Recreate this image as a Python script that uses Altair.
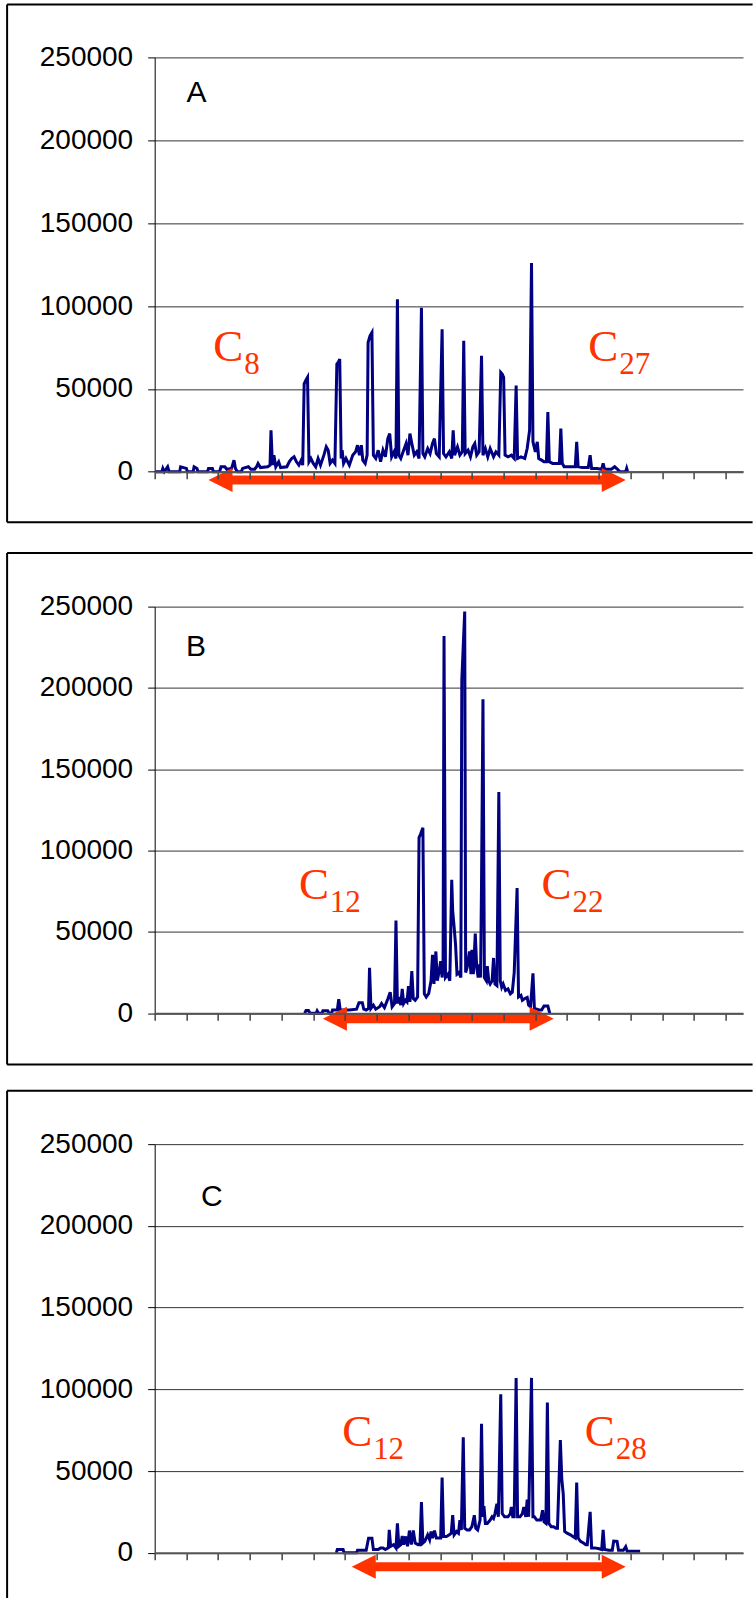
import altair as alt
import pandas as pd

# ---------------- data (x: scan units, tick every 66; y: abundance) ----------------
A_trace = [(2,0),(15,0),(17,2000),(20,0),(27,3000),(30,0),(52,0),(54,3000),(66,2000),(68,0),(80,0),(82,3000),
    (88,2000),(90,0),(110,0),(112,2000),(120,2000),(122,0),(135,0),(138,3000),(146,3000),(150,1500),(160,2000),
    (165,7000),(168,2000),(172,0),(180,0),(183,2000),(195,3000),(200,1500),(208,1500),
    (212,3000),(215,5000),(220,2500),(235,3000),(240,4000),(242,25000),(245,4000),(248,10000),(252,3000),(258,6000),
    (262,2500),(275,3000),(280,6000),(285,8000),(290,9000),(295,6000),(300,4000),(305,7000),(308,4000),(311,53000),
    (314,55000),(318,57000),(321,6000),(325,8000),(330,5000),(335,3000),(340,8000),(345,4000),(352,10000),(357,15000),
    (361,13000),(365,5000),(370,7000),(375,5000),(379,65000),(382,66000),(385,68000),(388,8000),(390,13000),(393,5000),
    (398,8000),(405,4000),(412,10000),(418,12000),(422,16000),(426,10000),(430,16000),(433,7000),(438,5000),(442,10000),
    (444,78000),(448,82000),(452,84000),(455,10000),(460,8000),(465,13000),(470,6000),(475,13000),(480,9000),(485,20000),
    (489,23000),(493,9000),(498,12000),(502,8000),(505,104000),(508,10000),(512,8000),(518,13000),(523,17000),(527,10000),
    (531,23000),(535,17000),(540,10000),(545,12000),(550,8000),(555,99000),(558,11000),(562,9000),(568,14000),(573,11000),
    (578,17000),(582,20000),(586,11000),(592,9000),(598,86000),(601,11000),(606,9000),(613,12000),(618,8000),(621,25000),
    (624,10000),(630,15000),(635,10000),(640,12000),(643,79000),(646,11000),(652,13000),(657,9000),(662,15000),(666,17000),
    (670,10000),(675,12000),(680,70000),(683,10000),(688,14000),(693,9000),(698,14000),(705,9000),(710,12000),(716,10000),
    (720,60000),(723,59000),(726,57000),(729,10000),(735,9000),(742,10000),(748,8000),(752,52000),(755,8000),(762,9000),
    (770,8000),(775,14000),(780,25000),(784,126000),(787,18000),(792,12000),(796,18000),(799,8000),(805,7000),(810,6000),
    (815,6000),(818,36000),(821,6000),(828,5000),(835,5000),(842,5000),(845,26000),(848,5000),(852,3000),(865,3000),
    (875,3000),(878,18000),(881,3000),(890,2500),(902,2500),(906,10000),(909,2000),(920,2000),(930,1500),(933,5000),
    (936,1500),(950,1500),(957,3000),(963,1500),(968,0),(980,0),(982,2000),(984,0)]

B_trace = [(312,0),(315,1700),(320,1700),(323,0),(336,0),(338,1500),(341,0),(348,0),(350,1500),(360,1500),(363,0),
    (368,0),(370,2000),(380,2000),(383,8700),(386,2000),(395,2000),(405,2000),(420,2500),(425,6500),(432,6500),(435,2500),
    (440,2000),(445,3000),(447,28000),(450,3000),(455,5000),(460,2500),(468,4000),(472,6000),(478,3500),(485,8700),
    (490,12900),(494,4000),(499,6000),(502,57000),(505,6000),(508,10000),(512,5000),(515,15000),(518,6000),(522,8000),
    (525,7000),(528,16700),(531,7000),(535,26000),(538,9000),(542,8000),(547,10000),(550,108000),(553,110000),
    (558,114000),(561,12000),(565,10000),(570,12000),(575,20000),(578,36000),(581,18000),(585,38000),(588,20000),
    (592,26000),(595,32000),(598,22000),(600,28000),(602,232000),(605,22000),(610,24000),(614,20000),(618,82000),
    (620,63000),(623,53000),(626,42000),(629,24000),(633,25000),(637,22000),(639,205000),(645,247000),(647,25000),
    (650,28000),(655,38000),(658,24000),(660,39000),(663,24000),(667,49000),(670,28000),(673,22000),(675,30000),
    (678,22000),(680,80000),(683,193000),(686,22000),(690,20000),(692,29000),(695,20000),(698,18000),(702,20000),
    (705,34000),(708,18000),(712,17000),(716,136000),(719,20000),(722,16000),(725,18000),(730,14000),(735,15000),
    (740,12000),(744,13000),(748,25000),(754,77000),(757,10000),(762,11000),(765,8000),(770,9000),(775,9700),(778,5000),
    (782,4000),(787,24500),(790,3000),(795,2500),(800,2000),(805,2000),(810,4400),(818,4400),(822,0)]

C_trace = [(378,0),(380,2000),(392,2000),(394,0),(420,0),(422,1500),(440,1500),(445,8900),(452,8900),(455,2000),
    (465,2000),(470,3000),(475,3000),(480,2000),(486,3000),(488,14000),(491,4000),(497,5000),(502,3000),(505,18000),
    (508,4000),(512,5000),(515,10300),(518,5000),(522,10000),(526,4000),(530,13600),(534,5000),(538,13600),(542,6000),
    (548,5000),(552,5000),(555,31000),(558,6000),(562,7000),(568,11000),(572,8000),(575,13000),(578,9000),(582,13600),
    (586,9000),(590,9000),(595,9000),(598,46000),(601,10000),(607,10000),(613,11000),(617,12000),(620,23000),(623,11000),
    (628,13000),(632,12000),(635,20000),(638,14000),(642,70700),(645,15000),(650,14000),(655,14000),(660,16000),
    (665,23000),(668,15000),(672,14000),(677,20000),(680,79000),(683,22000),(685,28500),(688,18000),(692,18000),
    (698,20000),(702,22000),(705,21000),(708,24000),(712,30000),(715,22000),(720,97000),(723,24000),(728,22000),
    (735,22000),(740,24000),(742,28000),(745,22000),(748,22000),(752,107000),(755,22000),(760,22000),(765,24000),
    (768,28000),(772,22000),(775,32600),(778,22000),(784,107000),(787,22000),(790,22000),(795,20000),(798,20000),
    (803,20000),(807,26000),(810,19000),(814,18000),(817,92000),(820,18000),(825,16000),(830,16000),(835,15000),
    (838,15000),(844,69000),(847,45000),(850,36000),(853,13000),(858,12000),(865,11000),(870,10000),(875,9000),
    (878,43000),(881,9000),(886,7000),(892,6000),(897,5000),(900,5000),(906,25000),(909,3000),(915,3000),(925,2500),
    (930,2000),(933,14000),(936,2000),(945,1500),(952,1500),(955,7200),(962,7000),(965,1500),(975,1500),(980,3700),
    (983,1000),(990,1000),(1010,1000)]

Y_TICKS = [0, 50000, 100000, 150000, 200000, 250000]
X_TICKS = list(range(0, 1189, 66))
X_DOMAIN = [0, 1224]

# panel annotations
A_label = ("A", 87, 223300)
B_label = ("B", 86, 219900)
C_label = ("C", 119, 212250)
A_carbons = (["8", "27"], [122, 902], 66800)
B_carbons = (["12", "22"], [300, 805], 70200)
C_carbons = (["12", "28"], [390, 895], 65330)
A_arrow = (112, 980, -5000)
B_arrow = (350, 830, -3300)
C_arrow = (410, 980, -8560)

RED = "#FF3300"
NAVY = "#000080"

xaxis = alt.Axis(values=X_TICKS, labels=False, title=None, grid=False, ticks=True,
                 tickSize=7, tickColor="#444444", tickWidth=1.5,
                 domainColor="#555555", domainWidth=2, zindex=1)
yaxis = alt.Axis(values=Y_TICKS, format="d", title=None, grid=True, gridColor="#333333",
                 gridWidth=1, tickSize=7, tickColor="#000000", domainColor="#000000",
                 labelPadding=15, labelFont="Liberation Sans", labelFontSize=28,
                 labelColor="#000000", zindex=0)


def X(field):
    return alt.X(field, scale=alt.Scale(domain=X_DOMAIN, nice=False, zero=False), axis=xaxis)


def Y(field):
    return alt.Y(field, scale=alt.Scale(domain=[0, 250000], nice=False, zero=False), axis=yaxis)


def panel(trace, label, carbons, arrow, height, box_top, box_bottom, draw_bottom=True):
    one = alt.Data(values=[{"k": 0}])
    layers = []
    layers.append(alt.Chart(one).mark_rule(color="black", strokeWidth=2).encode(
        x=alt.value(-147.6), x2=alt.value(598), y=alt.value(box_top)))
    layers.append(alt.Chart(one).mark_rule(color="black", strokeWidth=2).encode(
        x=alt.value(-147.6), y=alt.value(box_top), y2=alt.value(box_bottom)))
    if draw_bottom:
        layers.append(alt.Chart(one).mark_rule(color="black", strokeWidth=2).encode(
            x=alt.value(-147.6), x2=alt.value(598), y=alt.value(box_bottom)))

    df = pd.DataFrame({"x": [p[0] for p in trace], "y": [p[1] for p in trace]})
    layers.append(alt.Chart(df).mark_line(color=NAVY, strokeWidth=3).encode(x=X("x:Q"), y=Y("y:Q")))

    ldf = pd.DataFrame({"x": [label[1]], "y": [label[2]], "t": [label[0]]})
    layers.append(alt.Chart(ldf).mark_text(font="Liberation Sans", fontSize=30, align="center",
                                           baseline="alphabetic", color="black").encode(
        x=X("x:Q"), y=Y("y:Q"), text="t:N"))

    subs, xs, yv = carbons
    cdf = pd.DataFrame({"x": xs, "y": [yv] * len(xs), "c": ["C"] * len(xs), "s": subs})
    layers.append(alt.Chart(cdf).mark_text(font="Liberation Serif", fontSize=45, align="left",
                                           baseline="alphabetic", color=RED).encode(
        x=X("x:Q"), y=Y("y:Q"), text="c:N"))
    layers.append(alt.Chart(cdf).mark_text(font="Liberation Serif", fontSize=31, align="left",
                                           baseline="alphabetic", color=RED, dx=31, dy=13).encode(
        x=X("x:Q"), y=Y("y:Q"), text="s:N"))

    adf = pd.DataFrame({"x0": [arrow[0]], "x1": [arrow[1]], "y": [arrow[2]]})
    layers.append(alt.Chart(adf).transform_calculate(
        s0="datum.x0 + 30", s1="datum.x1 - 30").mark_rule(color=RED, strokeWidth=9).encode(
        x=X("s0:Q"), x2="s1:Q", y=Y("y:Q")))
    layers.append(alt.Chart(adf).mark_point(shape="M0,0L2,-1L2,1Z", size=576, filled=True,
                                            color=RED, opacity=1, strokeWidth=0).encode(
        x=X("x0:Q"), y=Y("y:Q")))
    layers.append(alt.Chart(adf).mark_point(shape="M0,0L-2,-1L-2,1Z", size=576, filled=True,
                                            color=RED, opacity=1, strokeWidth=0).encode(
        x=X("x1:Q"), y=Y("y:Q")))

    return alt.layer(*layers).properties(width=588.4, height=height)


pA = panel(A_trace, A_label, A_carbons, A_arrow, 414.4, -53.0, 465.0)
pB = panel(B_trace, B_label, B_carbons, B_arrow, 406.7, -53.7, 458.0)
pC = panel(C_trace, C_label, C_carbons, C_arrow, 408.7, -53.3, 454.0, draw_bottom=False)

chart = alt.vconcat(
    pA,
    alt.vconcat(pB, pC, spacing=130.6, bounds="flush"),
    spacing=134.3, bounds="flush"
).properties(
    padding={"left": 5.7, "top": 3.3, "right": 0, "bottom": 0},
    background="white",
).configure_view(stroke=None)

chart.save("out.html", embed_options={"renderer": "svg", "actions": False})
